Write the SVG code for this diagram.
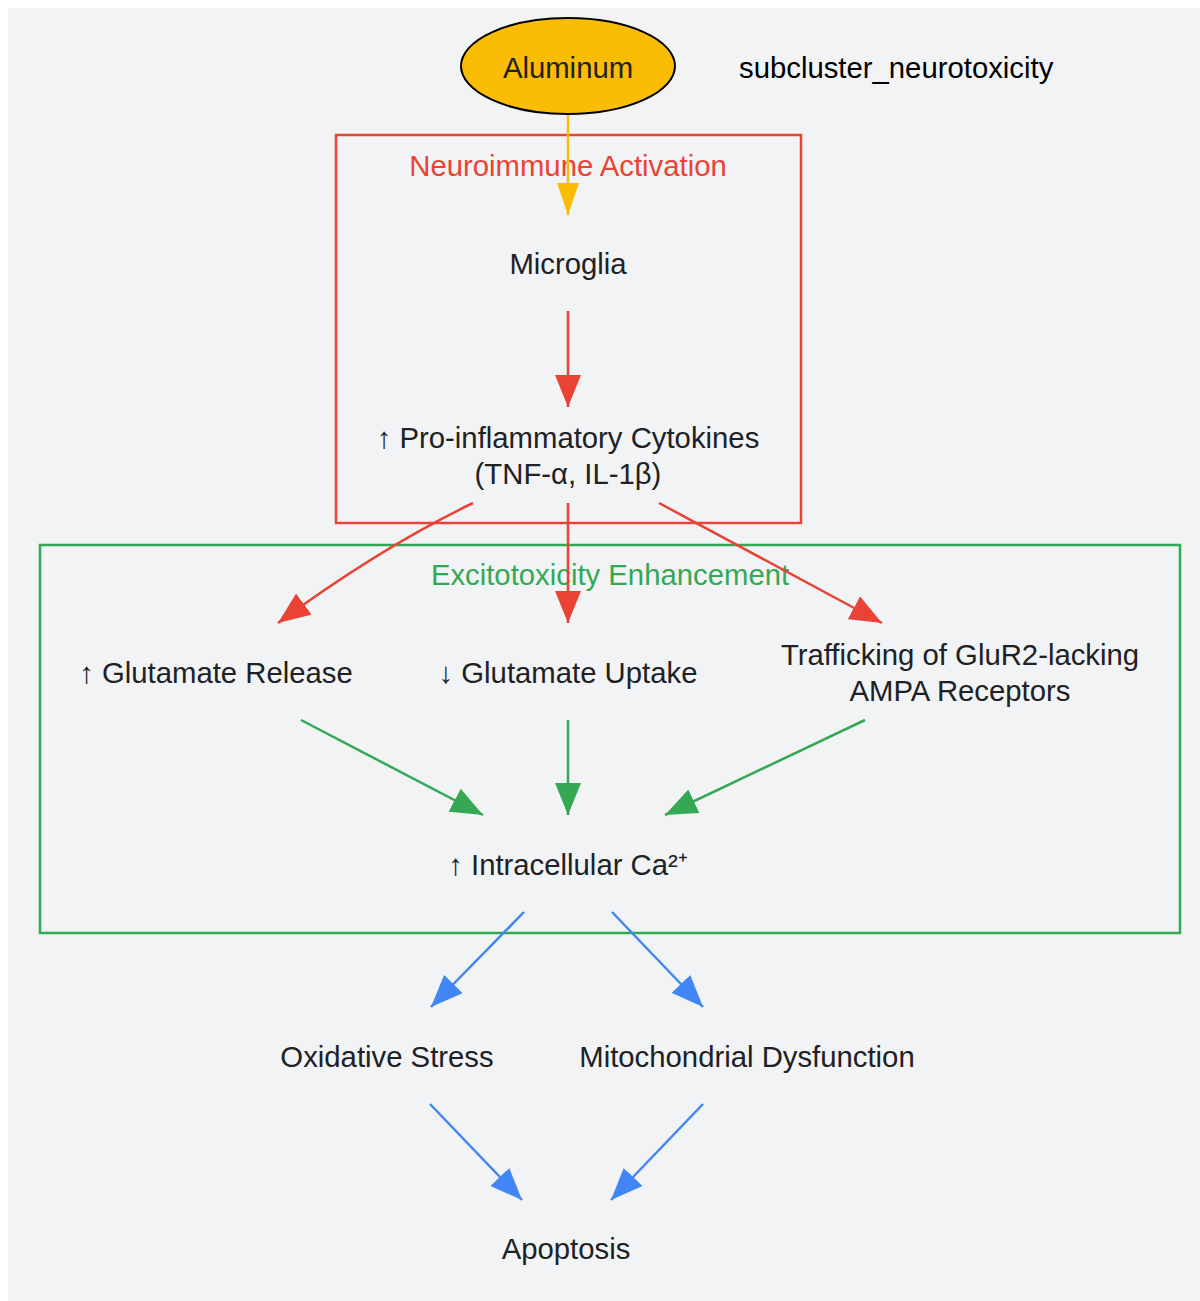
<svg xmlns="http://www.w3.org/2000/svg" width="1200" height="1301" viewBox="0 0 1200 1301">
<defs>
<style>
text{font-family:"Liberation Sans",Arial,sans-serif;font-size:29.3px;text-anchor:middle;dominant-baseline:central;fill:#202124}
.edge{fill:none;stroke-width:2.5}
.r{stroke:#ea4335}.g{stroke:#34a853}.b{stroke:#4285f4}.y{stroke:#fbbc04}
</style>
<marker id="ar" markerUnits="userSpaceOnUse" markerWidth="32" markerHeight="26" refX="32" refY="13" orient="auto" viewBox="0 0 32 26"><path d="M0,0 L32,13 L0,26 z" fill="#ea4335"/></marker>
<marker id="ag" markerUnits="userSpaceOnUse" markerWidth="32" markerHeight="26" refX="32" refY="13" orient="auto" viewBox="0 0 32 26"><path d="M0,0 L32,13 L0,26 z" fill="#34a853"/></marker>
<marker id="ab" markerUnits="userSpaceOnUse" markerWidth="32" markerHeight="26" refX="32" refY="13" orient="auto" viewBox="0 0 32 26"><path d="M0,0 L32,13 L0,26 z" fill="#4285f4"/></marker>
<marker id="ay" markerUnits="userSpaceOnUse" markerWidth="32" markerHeight="22" refX="32" refY="11" orient="auto" viewBox="0 0 32 22"><path d="M0,0 L32,11 L0,22 z" fill="#fbbc04"/></marker>
</defs>
<rect x="8" y="8" width="1192" height="1293" fill="#f1f3f5"/>
<g id="cluster_neuroimmune">
<rect x="336" y="135" width="465" height="388" fill="none" stroke="#ea4335" stroke-width="2.5"/>
<text x="568" y="165" style="fill:#ea4335">Neuroimmune Activation</text>
</g>
<g id="cluster_excitotoxicity">
<rect x="40" y="545" width="1140" height="388" fill="none" stroke="#34a853" stroke-width="2.5"/>
<text x="610" y="574" style="fill:#34a853">Excitotoxicity Enhancement</text>
</g>
<g id="label_subcluster">
<text x="739" y="67" style="text-anchor:start;fill:#000">subcluster_neurotoxicity</text>
</g>
<g id="connectors">
<path class="edge y" d="M568,114 L568,215" marker-end="url(#ay)"/>
<path class="edge r" d="M568,311 L568,407" marker-end="url(#ar)"/>
<path class="edge r" d="M473,503 Q380,548 278,623" marker-end="url(#ar)"/>
<path class="edge r" d="M568,503 L568,623" marker-end="url(#ar)"/>
<path class="edge r" d="M659,503 L882,623" marker-end="url(#ar)"/>
<path class="edge g" d="M301,720 L483,815" marker-end="url(#ag)"/>
<path class="edge g" d="M568,720 L568,815" marker-end="url(#ag)"/>
<path class="edge g" d="M865,720 L665,815" marker-end="url(#ag)"/>
<path class="edge b" d="M524,912 L431,1007" marker-end="url(#ab)"/>
<path class="edge b" d="M612,912 L703,1007" marker-end="url(#ab)"/>
<path class="edge b" d="M430,1104 L522,1200" marker-end="url(#ab)"/>
<path class="edge b" d="M703,1104 L611,1200" marker-end="url(#ab)"/>
</g>
<g id="aluminum">
<ellipse cx="568" cy="66" rx="107" ry="48" fill="#fbbc04" stroke="#000" stroke-width="2"/>
<text x="568" y="67">Aluminum</text>
</g>
<g id="microglia"><text x="568" y="263">Microglia</text></g>
<g id="cytokines"><text x="568" y="437">↑ Pro-inflammatory Cytokines</text><text x="568" y="473">(TNF-α, IL-1β)</text></g>
<g id="glu_release"><text x="216" y="672">↑ Glutamate Release</text></g>
<g id="glu_uptake"><text x="568" y="672">↓ Glutamate Uptake</text></g>
<g id="ampa"><text x="960" y="654">Trafficking of GluR2-lacking</text><text x="960" y="690">AMPA Receptors</text></g>
<g id="calcium"><text x="568" y="864">↑ Intracellular Ca²⁺</text></g>
<g id="oxidative"><text x="387" y="1056">Oxidative Stress</text></g>
<g id="mito"><text x="747" y="1056">Mitochondrial Dysfunction</text></g>
<g id="apoptosis"><text x="566" y="1248">Apoptosis</text></g>
</svg>
